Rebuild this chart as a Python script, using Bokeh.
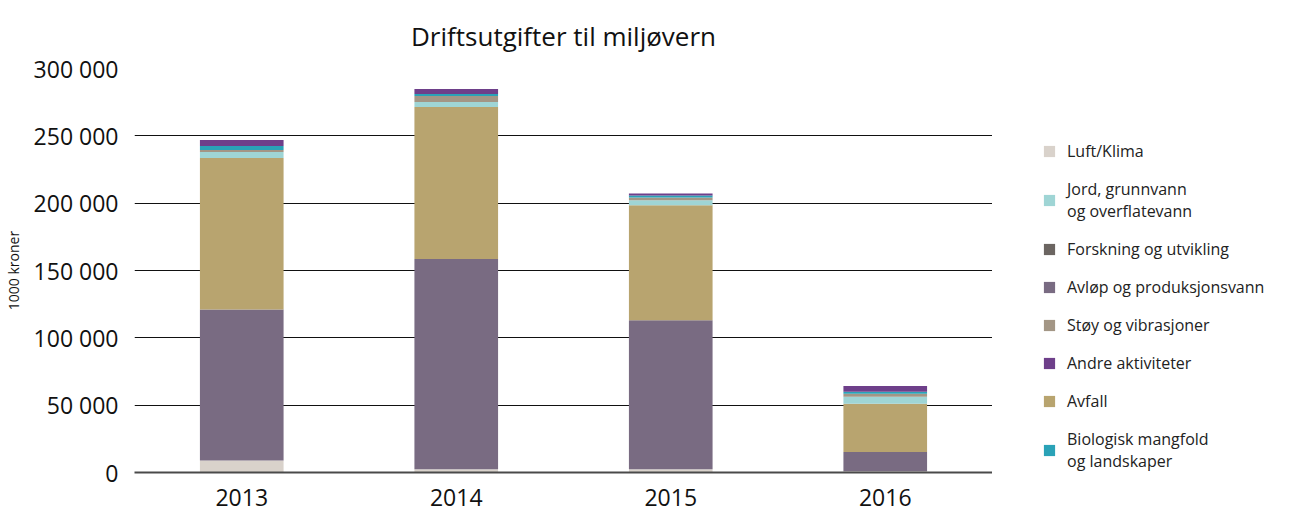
from bokeh.plotting import figure
from bokeh.layouts import row
from bokeh.models import Legend, LegendItem, FixedTicker, Range1d, FactorRange
from bokeh.embed import file_html
from bokeh.resources import INLINE

years = ["2013", "2014", "2015", "2016"]

# values in 1000 kroner, stacked bottom to top
luft = [9000, 2500, 2500, 1000]
avlop = [112000, 156000, 110600, 14300]
avfall = [112600, 113000, 85400, 35800]
jord = [4400, 3700, 3600, 5100]
stoy = [1500, 4400, 2200, 2200]
forskning = [0, 0, 0, 0]
biologisk = [3000, 1500, 1400, 1500]
andre = [4400, 3700, 1500, 4300]

series_keys = ["luft", "avlop", "avfall", "jord", "stoy", "forskning", "biologisk", "andre"]
series_names = ["Luft/Klima", "Avløp og produksjonsvann", "Avfall",
                "Jord, grunnvann\nog overflatevann", "Støy og vibrasjoner",
                "Forskning og utvikling", "Biologisk mangfold\nog landskaper",
                "Andre aktiviteter"]
colors = ["#d9d2cb", "#796b82", "#b8a46f", "#9fd5d5", "#a39685",
          "#6b6561", "#2aa2b7", "#6e3f8a"]
legend_order = ["luft", "jord", "forskning", "avlop", "stoy", "andre", "avfall", "biologisk"]

y_ticks = [0, 50000, 100000, 150000, 200000, 250000, 300000]
y_tick_labels = ["0", "50 000", "100 000", "150 000", "200 000", "250 000", "300 000"]

data = dict(years=years, luft=luft, avlop=avlop, avfall=avfall, jord=jord,
            stoy=stoy, forskning=forskning, biologisk=biologisk, andre=andre)

FONT = "Open Sans"

p = figure(width=992, height=515, x_range=FactorRange(*years, range_padding=0),
           y_range=Range1d(0, 300000), output_backend="svg", toolbar_location=None,
           min_border_left=127, min_border_right=0, min_border_top=62,
           min_border_bottom=43, title="Driftsutgifter til miljøvern")

renderers = p.vbar_stack(series_keys, x="years", width=0.39, source=data,
                         color=colors, line_color=None)
rmap = dict(zip(series_keys, renderers))
cmap = dict(zip(series_keys, colors))
nmap = dict(zip(series_keys, series_names))

p.outline_line_color = None
p.background_fill_color = "white"
p.border_fill_color = "white"

p.title.align = "center"
p.title.text_font = FONT
p.title.text_font_size = "26px"
p.title.text_font_style = "normal"
p.title.text_color = "#111111"
p.title.standoff = 30

p.xgrid.grid_line_color = None
p.ygrid.grid_line_color = "#111111"
p.ygrid.grid_line_width = 1
p.yaxis.ticker = FixedTicker(ticks=y_ticks)
p.yaxis.major_label_overrides = dict(zip(y_ticks, y_tick_labels))
p.yaxis.axis_line_color = None
p.yaxis.major_tick_line_color = None
p.yaxis.minor_tick_line_color = None
p.yaxis.major_label_text_font = FONT
p.yaxis.major_label_text_font_size = "23px"
p.yaxis.major_label_text_color = "#111111"
p.yaxis.major_label_standoff = 10
p.yaxis.axis_label = "1000 kroner"
p.yaxis.axis_label_text_font = FONT
p.yaxis.axis_label_text_font_size = "14px"
p.yaxis.axis_label_text_font_style = "normal"
p.yaxis.axis_label_text_color = "#111111"
p.yaxis.axis_label_standoff = 8

p.xaxis.axis_line_color = "#4a4a4a"
p.xaxis.axis_line_width = 2
p.xaxis.major_tick_line_color = None
p.xaxis.minor_tick_line_color = None
p.xaxis.major_label_text_font = FONT
p.xaxis.major_label_text_font_size = "23px"
p.xaxis.major_label_text_color = "#111111"
p.xaxis.major_label_standoff = 10

# legend panel as a separate figure to the right
p2 = figure(width=303, height=515, x_axis_type=None, y_axis_type=None,
            x_range=Range1d(0, 1), y_range=Range1d(0, 1),
            output_backend="svg", toolbar_location=None, min_border=0)
p2.outline_line_color = None
p2.grid.visible = False
p2.background_fill_color = "white"
p2.border_fill_color = "white"

items = []
for k in legend_order:
    # swatch-only renderer placed outside the visible range
    r = p2.rect(x=[5], y=[5], width=0.1, height=0.1, fill_color=cmap[k],
                line_color=None)
    items.append(LegendItem(label=nmap[k], renderers=[r]))

legend = Legend(items=items, location=(50, 0))
legend.border_line_color = None
legend.background_fill_alpha = 0
legend.padding = 0
legend.margin = 0
legend.glyph_width = 14
legend.glyph_height = 14
legend.label_standoff = 11
legend.label_height = 18
legend.spacing = 16
legend.label_text_font = FONT
legend.label_text_font_size = "16px"
legend.label_text_color = "#222222"
p2.add_layout(legend)

layout = row(p, p2, spacing=0)
open("out.html", "w").write(file_html(layout, INLINE))
